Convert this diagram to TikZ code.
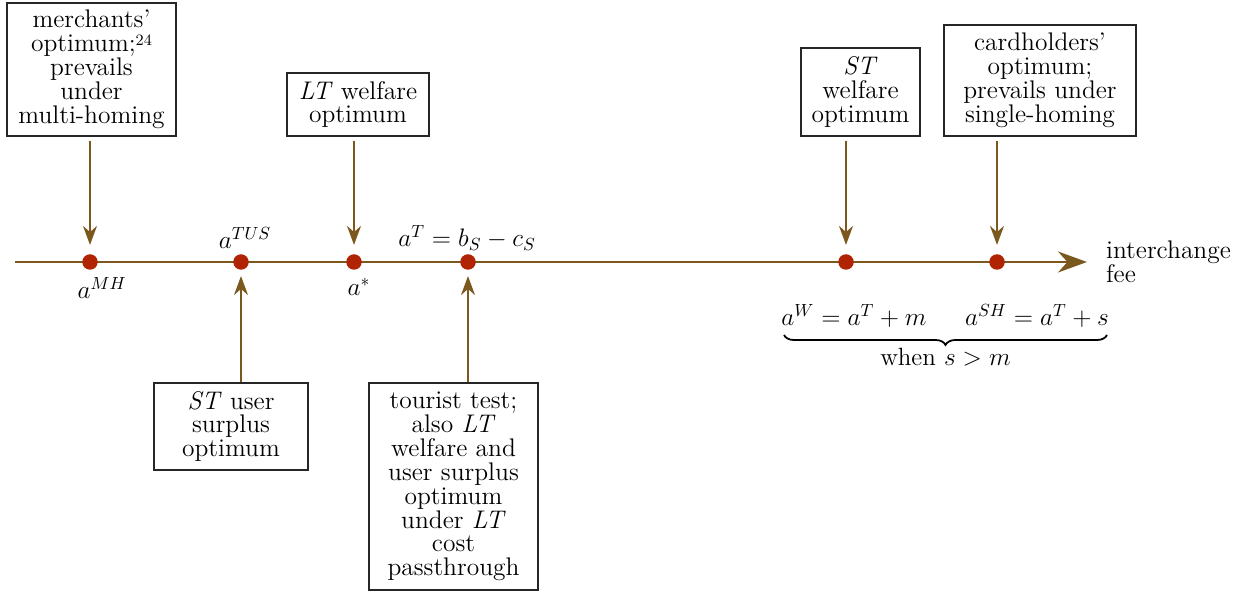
\documentclass[tikz,border=0pt]{standalone}
\usepackage{amsmath}
\usepackage{amssymb}
\usetikzlibrary{calc, positioning}
\usetikzlibrary{arrows.meta}
\usetikzlibrary{decorations.pathreplacing}

\definecolor{axisbrown}{RGB}{122,88,30}
\definecolor{dotred}{RGB}{176,36,4}

\newcommand{\fnmark}[1]{\raisebox{0.55ex}{\fontsize{9}{9}\selectfont #1}}

\begin{document}
\begin{tikzpicture}[
  box/.style={draw=black!85, line width=0.6pt, align=center, inner sep=2pt,
    font=\fontsize{14.5}{13.6}\selectfont},
  lab/.style={inner sep=1pt, font=\fontsize{14.2}{13.6}\selectfont},
  dot/.style={circle, fill=dotred, inner sep=0pt, minimum size=0.31cm},
  arr/.style={axisbrown, line width=1.1pt, -{Stealth[length=0.38cm, width=0.28cm]}},
  ]
\useasboundingbox (0,-6.60) rectangle (25.16,5.24);

\def\down{0.18cm}
\def\up{0.12cm}

\coordinate (start) at (0.30,0);
\coordinate (tip) at (21.74,0);
\draw[axisbrown, line width=1.1pt, -{Stealth[length=0.58cm, width=0.42cm]}]
  (start) -- (tip);

\node[dot] (mh) at (1.80,0) {};
\node[dot] (tus) at (4.82,0) {};
\node[dot] (star) at (7.08,0) {};
\node[dot] (t) at (9.36,0) {};
\node[dot] (w) at (16.92,0) {};
\node[dot] (sh) at (19.94,0) {};

\node[lab] (lmh) at (2.04,-0.52) {$a^{MH}$};
\node[lab] (ltus) at (4.90,0.48) {$a^{TUS}$};
\node[lab] (lstar) at (7.18,-0.50) {$a^{*}$};
\node[lab] (lt) at (9.34,0.48) {$a^{T}=b_S-c_S$};
\node[lab, anchor=west, align=left, font=\fontsize{14.5}{13.6}\selectfont]
  (fee) at (22.08,0) {interchange\\fee};

% boxes above the axis
\node[box, minimum width=3.38cm, minimum height=2.66cm] (merch) at (1.83,3.85)
  {merchants'\\optimum;\fnmark{24}\\prevails\\under\\multi-homing};
\node[box, minimum width=2.84cm, minimum height=1.26cm] (ltw) at (7.16,3.15)
  {\textit{LT} welfare\\optimum};
\node[box, minimum width=2.38cm, minimum height=1.76cm] (stw) at (17.21,3.40)
  {\textit{ST}\\welfare\\optimum};
\node[box, minimum width=3.84cm, minimum height=2.22cm] (card) at (20.80,3.63)
  {cardholders'\\optimum;\\prevails under\\single-homing};

% boxes below the axis
\node[box, minimum width=3.08cm, minimum height=1.74cm] (stus) at (4.62,-3.29)
  {\textit{ST} user\\surplus\\optimum};
\node[box, minimum width=3.38cm, minimum height=4.14cm] (tour) at (9.07,-4.49)
  {tourist test;\\also \textit{LT}\\welfare and\\user surplus\\optimum\\under \textit{LT}\\cost\\passthrough};

\draw[arr, shorten <=0.08cm, shorten >=\down] (mh |- merch.south) -- (mh);
\draw[arr, shorten <=0.08cm, shorten >=\down] (star |- ltw.south) -- (star);
\draw[arr, shorten <=0.08cm, shorten >=\down] (w |- stw.south) -- (w);
\draw[arr, shorten <=0.08cm, shorten >=\down] (sh |- card.south) -- (sh);
\draw[arr, shorten >=\up] (tus |- stus.north) -- (tus);
\draw[arr, shorten >=\up] (t |- tour.north) -- (t);

\coordinate (bl) at (15.68,-1.46);
\coordinate (br) at (22.14,-1.46);
\node[lab] (lw) at (17.08,-1.08) {$a^{W}=a^{T}+m$};
\node[lab] (lsh) at (20.74,-1.08) {$a^{SH}=a^{T}+s$};
\draw[line width=1pt, decorate, decoration={brace, mirror, amplitude=0.2cm}]
  (bl) -- (br);
\node[lab] (when) at (18.91,-1.90) {when $s>m$};
\end{tikzpicture}
\end{document}
